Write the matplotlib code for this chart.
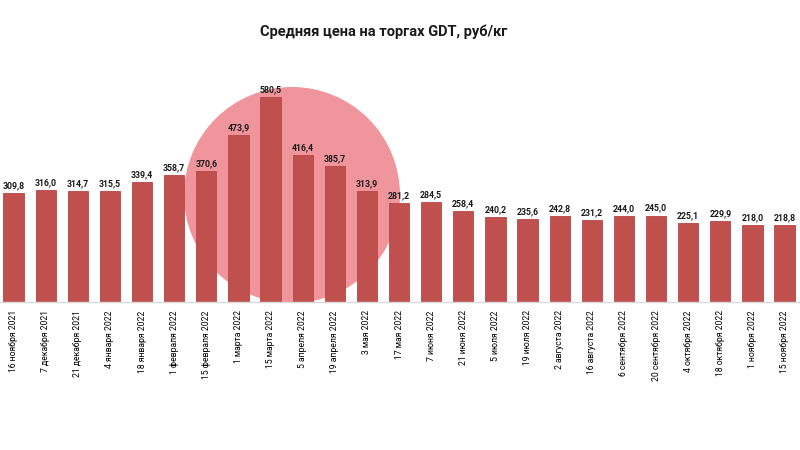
import matplotlib.pyplot as plt
from matplotlib.patches import Circle

# Data
dates = [
    "16 ноября 2021", "7 декабря 2021", "21 декабря 2021", "4 января 2022",
    "18 января 2022", "1 февраля 2022", "15 февраля 2022", "1 марта 2022",
    "15 марта 2022", "5 апреля 2022", "19 апреля 2022", "3 мая 2022",
    "17 мая 2022", "7 июня 2022", "21 июня 2022", "5 июля 2022",
    "19 июля 2022", "2 августа 2022", "16 августа 2022", "6 сентября 2022",
    "20 сентября 2022", "4 октября 2022", "18 октября 2022", "1 ноября 2022",
    "15 ноября 2022",
]
prices = [
    309.8, 316.0, 314.7, 315.5, 339.4, 358.7, 370.6, 473.9, 580.5, 416.4,
    385.7, 313.9, 281.2, 284.5, 258.4, 240.2, 235.6, 242.8, 231.2, 244.0,
    245.0, 225.1, 229.9, 218.0, 218.8,
]
title = "Средняя цена на торгах GDT, руб/кг"

plt.rcParams['font.family'] = ['Roboto', 'DejaVu Sans']

fig = plt.figure(figsize=(8, 4.5), dpi=100)
ax = fig.add_axes([0, 148 / 450, 1, 247 / 450])

# Watermark circle behind the bars
ax.add_patch(Circle((2.92, 2.55), 1.08, transform=fig.dpi_scale_trans,
                    facecolor="#F1959D", edgecolor="none", zorder=0))

x = range(len(prices))
ax.bar(x, prices, width=0.63, color="#C0504D", edgecolor="#B84542",
       linewidth=0.6, zorder=2)

for i, v in zip(x, prices):
    ax.text(i, v + 8, f"{v:.1f}".replace(".", ","), ha="center", va="bottom",
            fontsize=6.3, fontweight="bold", color="#1a1a1a", zorder=3)

ax.set_xlim(-0.42, 24.48)
ax.set_ylim(0, 700)
ax.set_xticks(list(x))
ax.set_xticklabels(dates, rotation=90, fontsize=6.2, va="top", ha="center")
ax.tick_params(axis="x", length=0, pad=6)
ax.set_yticks([])
for s in ["top", "right", "left"]:
    ax.spines[s].set_visible(False)
ax.spines["bottom"].set_color("#D9D9D9")
ax.spines["bottom"].set_linewidth(1)
ax.patch.set_alpha(0)

fig.text(0.48, 1 - 32 / 450, title, ha="center", va="center",
         fontsize=10.5, fontweight="bold", color="#1a1a1a")

fig.savefig("out.png", dpi=100)
